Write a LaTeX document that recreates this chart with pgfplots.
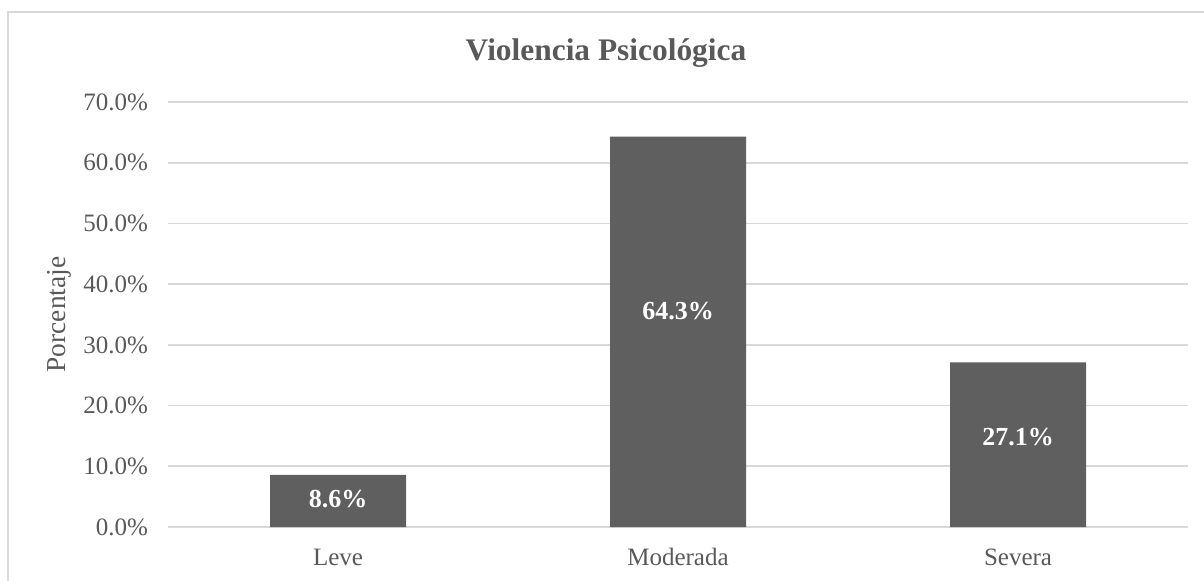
\documentclass[border=0pt]{standalone}
\usepackage{pgfplots}
\pgfplotsset{compat=1.18}
\usepackage{fontspec}
\setmainfont{Liberation Serif}
\definecolor{barc}{HTML}{5F5F5F}
\definecolor{txt}{HTML}{595959}
\definecolor{grd}{HTML}{D9D9D9}
\begin{document}
\begin{tikzpicture}[x=1pt,y=1pt]
\path[use as bounding box] (0,0) rectangle (602,290);
\draw[grd, line width=0.8pt] (4,-10) -- (4,284) -- (610,284);
\node[anchor=base, text=txt, font=\fontsize{15.7}{18}\selectfont\bfseries] at (303,259.5) {Violencia Psicológica};
\begin{axis}[
  at={(84pt,26.5pt)}, anchor=south west,
  scale only axis, width=510pt, height=212.5pt,
  xmin=-0.5, xmax=2.5, ymin=0, ymax=70,
  xtick={0,1,2}, xticklabels={Leve,Moderada,Severa},
  ytick={0,10,...,70},
  /pgf/number format/assume math mode=true,
  yticklabel={\pgfmathprintnumber[fixed,fixed zerofill,precision=1]{\tick}\%},
  ymajorgrids, grid style={grd, line width=0.8pt},
  axis line style={draw=none},
  major tick length=0pt,
  tick label style={text=txt, font=\fontsize{12.5}{14}\selectfont},
  xticklabel style={anchor=base, yshift=-19pt},
  yticklabel style={anchor=east, xshift=-6.5pt},
  ylabel={Porcentaje},
  ylabel style={at={(axis description cs:0,0.5)}, anchor=center, yshift=54.5pt, text=txt, font=\fontsize{13.7}{15}\selectfont},
  clip=false,
]
\addplot[ybar, bar width=68pt, fill=barc, draw=none] coordinates {(0,8.6) (1,64.3) (2,27.1)};
\addplot[draw=none, mark=none, nodes near coords, point meta=explicit symbolic,
  every node near coord/.style={anchor=center, text=white, font=\fontsize{13}{15}\selectfont\bfseries}]
  coordinates {(0,4.6)[8.6\%] (1,35.6)[64.3\%] (2,14.9)[27.1\%]};
\end{axis}
\end{tikzpicture}
\end{document}
